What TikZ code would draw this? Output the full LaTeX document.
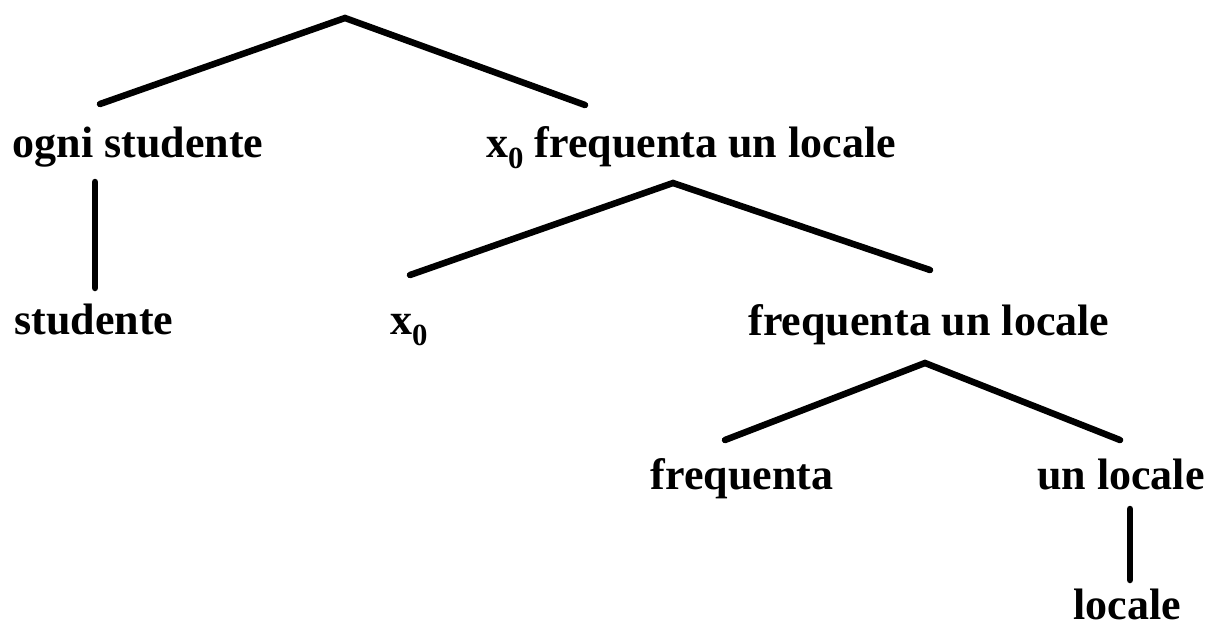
\documentclass[tikz,border=0pt]{standalone}
\usepackage{fontspec}
\setmainfont{Liberation Serif}
\begin{document}
\begin{tikzpicture}[x=1pt,y=-1pt,
  lbl/.style={font=\fontsize{44}{48}\selectfont\bfseries, inner sep=0pt, anchor=base},
  edge/.style={line width=6.5pt, line cap=round}]
\useasboundingbox (0,0) rectangle (1216,630);
% labels
\node[lbl] (ogni) at (138,157) {ogni studente};
\node[lbl] (xfl) at (691,157) {x\textsubscript{0} frequenta un locale};
\node[lbl] (stud) at (94,334) {studente};
\node[lbl, anchor=base west] (x0) at (390,334) {x\textsubscript{0}};
\node[lbl] (fl) at (929,335) {frequenta un locale};
\node[lbl] (freq) at (742,489) {frequenta};
\node[lbl] (ul) at (1121,489) {un locale};
\node[lbl] (loc) at (1127,619) {locale};
% branching points and branch ends
\coordinate (r0) at (345,18);
\coordinate (r1) at (100,104);
\coordinate (r2) at (585,105);
\coordinate (a0) at (673,183);
\coordinate (a1) at (410,275);
\coordinate (a2) at (930,270);
\coordinate (b0) at (925,363);
\coordinate (b1) at (725,440);
\coordinate (b2) at (1120,440);
\coordinate (s1) at (95,182);
\coordinate (s2) at (95,288);
\coordinate (u1) at (1130,509);
\coordinate (u2) at (1130,580);
% tree edges
\draw[edge] (r1) -- (r0) -- (r2);
\draw[edge] (a1) -- (a0) -- (a2);
\draw[edge] (b1) -- (b0) -- (b2);
\draw[edge] (s1) -- (s2);
\draw[edge] (u1) -- (u2);
\end{tikzpicture}
\end{document}
